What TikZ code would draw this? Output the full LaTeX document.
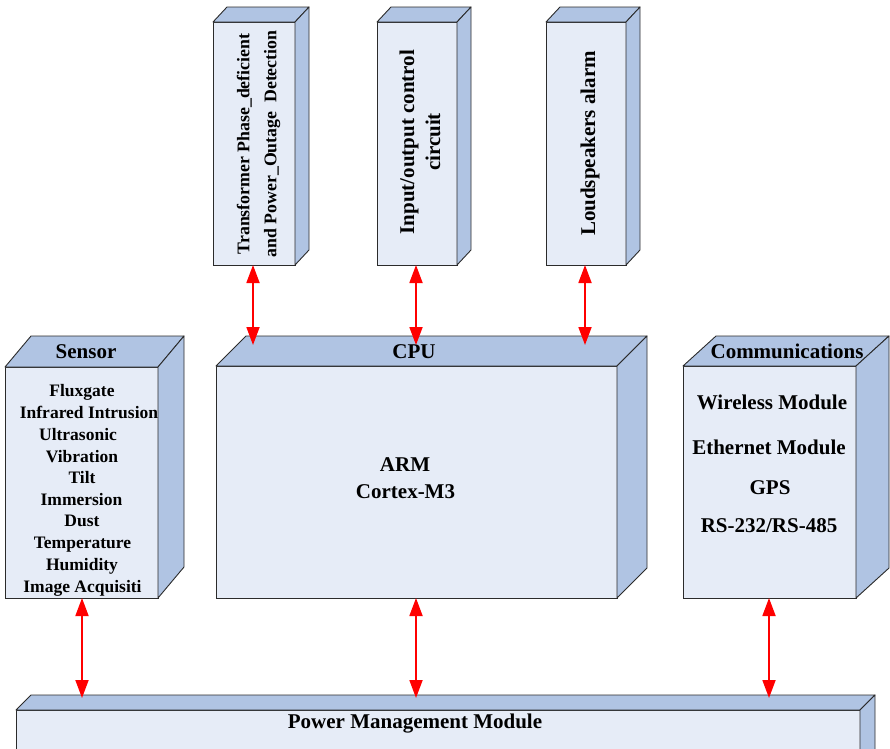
\documentclass[tikz,border=0pt]{standalone}
\usepackage{fontspec}
\setmainfont{Liberation Serif}
\usetikzlibrary{arrows.meta,calc}
\definecolor{frontc}{HTML}{E6ECF7}
\definecolor{sidec}{HTML}{B0C4E3}
\definecolor{edgec}{HTML}{2B2B2B}
\tikzset{
  front/.style={rectangle, draw=edgec, fill=frontc, line width=0.9pt, inner sep=0pt, outer sep=0pt},
  face/.style={draw=edgec, fill=sidec, line width=0.9pt, line join=round},
  lbl/.style={font=\bfseries\fontsize{21}{26}\selectfont, inner sep=0pt, align=center},
  lblsmall/.style={font=\bfseries\fontsize{17.5}{26}\selectfont, inner sep=0pt, align=center,
                   text height=12pt, text depth=4pt},
  link/.style={red, line width=1.8pt,
               {Triangle[length=18pt,width=13pt]}-{Triangle[length=18pt,width=13pt]}},
}
% top and right faces of a box whose front face is node #1; depth (#2 right, #3 up)
\newcommand{\cubefaces}[3]{%
  \path[face] (#1.north west) -- ++(#2,-#3) -- ($(#1.north east)+(#2,-#3)$) -- (#1.north east) -- cycle;
  \path[face] (#1.north east) -- ++(#2,-#3) -- ($(#1.south east)+(#2,-#3)$) -- (#1.south east) -- cycle;
}
\begin{document}
\begin{tikzpicture}[x=1pt,y=-1pt]
  \useasboundingbox (0,0) rectangle (890,748);
  \clip (0,0) rectangle (890,748);

  % peripheral units above the CPU
  \node[front, minimum width=82pt, minimum height=243pt] (trans) at (254,143.5) {};
  \cubefaces{trans}{14}{15}
  \node[front, minimum width=80pt, minimum height=243pt] (io) at (417,143.5) {};
  \cubefaces{io}{14}{15}
  \node[front, minimum width=80pt, minimum height=243pt] (loud) at (586,143.5) {};
  \cubefaces{loud}{14}{15}

  \node[lbl, font=\bfseries\fontsize{17.8}{27}\selectfont, rotate=90] (transtxt) at (258.5,144)
    {Transformer Phase\_deficient\\and Power\_Outage~ Detection};
  \node[lbl, rotate=90] (iotxt) at (420,142) {Input/output control\\circuit};
  \node[lbl, rotate=90] (loudtxt) at (590,143.5) {Loudspeakers alarm};

  % middle row
  \node[front, minimum width=153pt, minimum height=231pt] (sensor) at (81.5,482.5) {};
  \cubefaces{sensor}{26}{31}
  \node[front, minimum width=401pt, minimum height=232pt] (cpu) at (416.5,482) {};
  \cubefaces{cpu}{30}{30}
  \node[front, minimum width=173pt, minimum height=232pt] (comm) at (769.5,482) {};
  \cubefaces{comm}{33}{30}

  % power module along the bottom
  \node[front, minimum width=844pt, minimum height=60pt] (power) at (438,740) {};
  \cubefaces{power}{15}{15}

  % sensor texts
  \node[lbl] (sensortitle) at (86,352) {Sensor};
  \node[lblsmall] (s1) at (82,392) {Fluxgate};
  \node[lblsmall] (s2) at (89,414) {Infrared Intrusion};
  \node[lblsmall] (s3) at (78,436) {Ultrasonic};
  \node[lblsmall] (s4) at (82,458) {Vibration};
  \node[lblsmall] (s5) at (82,479) {Tilt};
  \node[lblsmall] (s6) at (81.5,501) {Immersion};
  \node[lblsmall] (s7) at (82,522) {Dust};
  \node[lblsmall] (s8) at (82.5,544) {Temperature};
  \node[lblsmall] (s9) at (82,566) {Humidity};
  \node[lblsmall] (s10) at (82.5,588) {Image Acquisiti};

  % CPU texts
  \node[lbl] (cputitle) at (414,352) {CPU};
  \node[lbl] (arm) at (405,465) {ARM};
  \node[lbl] (cortex) at (405.5,492) {Cortex-M3};

  % communication texts
  \node[lbl] (commtitle) at (787,351) {Communications};
  \node[lbl] (c1) at (772,402) {Wireless Module};
  \node[lbl] (c2) at (769,447) {Ethernet Module};
  \node[lbl] (c3) at (770,488) {GPS};
  \node[lbl] (c4) at (769,526) {RS-232/RS-485};

  \node[lbl] (powertxt) at (415,724) {Power Management Module};

  % arrow ends lying on the top faces
  \coordinate (cputop1) at (253,345);
  \coordinate (cputop2) at (416,345);
  \coordinate (cputop3) at (585,345);
  \coordinate (pwtop1) at (82,698);
  \coordinate (pwtop2) at (416,698);
  \coordinate (pwtop3) at (769,698);

  \draw[link] (trans.south -| cputop1) -- (cputop1);
  \draw[link] (io.south -| cputop2) -- (cputop2);
  \draw[link] (loud.south -| cputop3) -- (cputop3);
  \draw[link] (sensor.south -| pwtop1) -- (pwtop1);
  \draw[link] (cpu.south -| pwtop2) -- (pwtop2);
  \draw[link] (comm.south -| pwtop3) -- (pwtop3);
\end{tikzpicture}
\end{document}
